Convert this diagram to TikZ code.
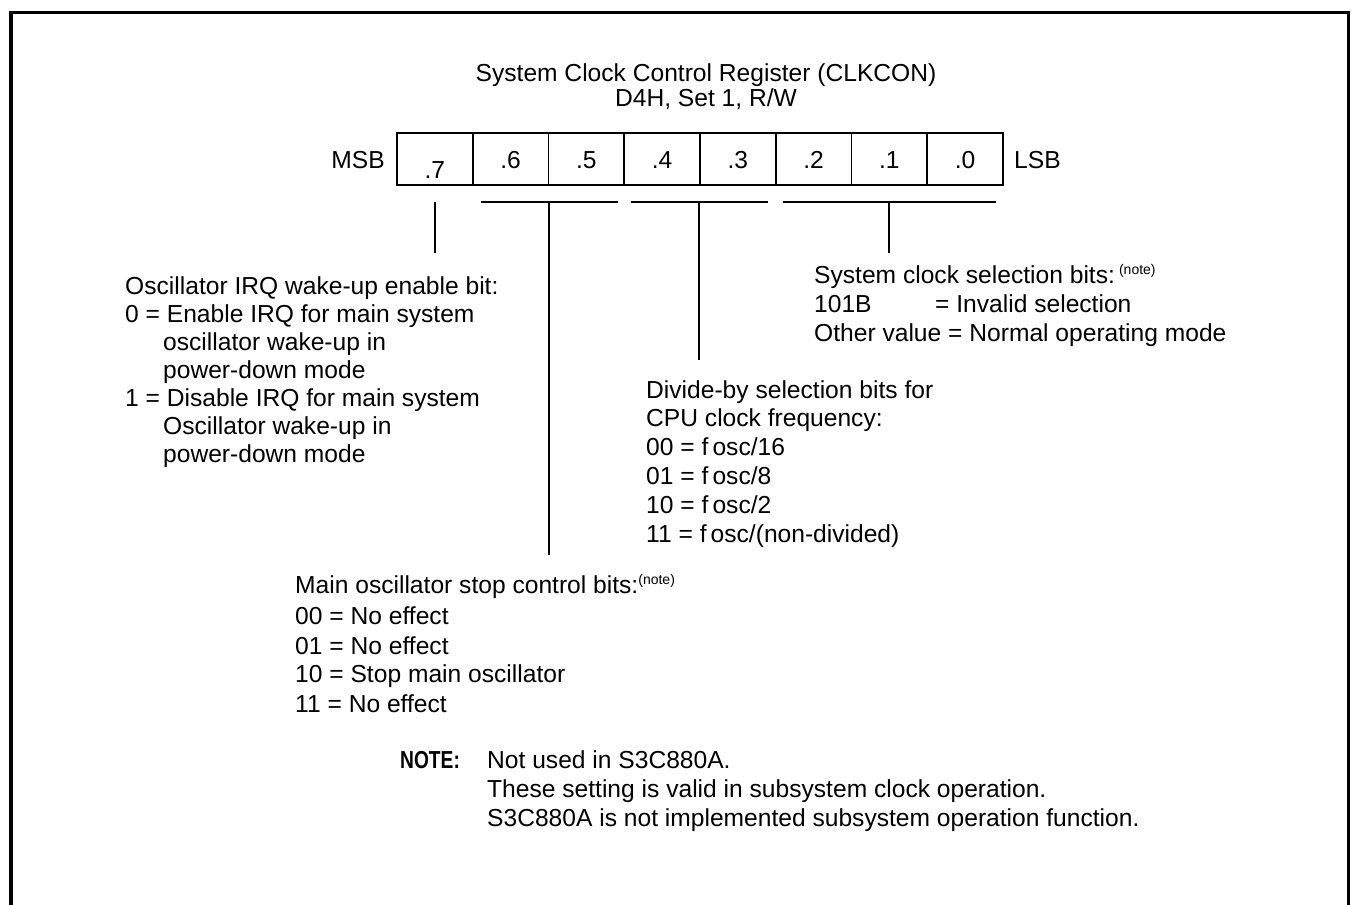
\documentclass[tikz,border=0pt]{standalone}
\usepackage{fontspec}
\setmainfont{Liberation Sans}
\begin{document}
\begin{tikzpicture}[x=1pt,y=-1pt,
  txt/.style={anchor=base west,inner sep=0pt,font=\fontsize{24.6}{28}\selectfont},
  ctr/.style={anchor=base,inner sep=0pt,font=\fontsize{24.6}{28}\selectfont},
  cell/.style={draw,line width=1.8pt,minimum width=75.75pt,minimum height=52pt,inner sep=0pt},
  ln/.style={line width=1.8pt},
  frame/.style={line width=3.2pt}]
\useasboundingbox (0,0) rectangle (1353,905);
% outer frame (open at bottom)
\draw[frame] (11,906) -- (11,12.5) -- (1348.5,12.5) -- (1348.5,906);
% title
\node[ctr] (title1) at (706,81) {System Clock Control Register (CLKCON)};
\node[ctr] (title2) at (706,106) {D4H, Set 1, R/W};
% register cells
\foreach \b [count=\k from 0] in {7,6,5,4,3,2,1,0}
  \node[cell] (c\b) at ({397+75.75*(\k+0.5)},159) {};
\node[ctr] (l7) at (c7.center |- 0,178) {.7};
\foreach \b in {6,5,4,3,2,1,0}
  \node[ctr] (l\b) at (c\b.center |- 0,168) {.\b};
\node[ctr,anchor=base east] (msb) at (385,168) {MSB};
\node[txt] (lsb) at (1014,168) {LSB};
% brackets
\coordinate (t7) at (435,202);  \coordinate (e7) at (435,253);
\coordinate (h65a) at (481,202); \coordinate (h65b) at (618,202);
\coordinate (t65) at (549,202); \coordinate (e65) at (549,555);
\coordinate (h43a) at (631,202); \coordinate (h43b) at (768,202);
\coordinate (t43) at (699,202); \coordinate (e43) at (699,360);
\coordinate (h20a) at (783,202); \coordinate (h20b) at (996,202);
\coordinate (t20) at (889,202); \coordinate (e20) at (889,253);
\draw[ln] (t7) -- (e7);
\draw[ln] (h65a) -- (h65b); \draw[ln] (t65) -- (e65);
\draw[ln] (h43a) -- (h43b); \draw[ln] (t43) -- (e43);
\draw[ln] (h20a) -- (h20b); \draw[ln] (t20) -- (e20);
% bit 7 description
\node[txt] (a1) at (125,294) {Oscillator IRQ wake-up enable bit:};
\node[txt] (a2) at (125,322) {0 = Enable IRQ for main system};
\node[txt] (a3) at (163,350) {oscillator wake-up in};
\node[txt] (a4) at (163,378) {power-down mode};
\node[txt] (a5) at (125,406) {1 = Disable IRQ for main system};
\node[txt] (a6) at (163,434) {Oscillator wake-up in};
\node[txt] (a7) at (163,462) {power-down mode};
% bits 2-0 description
\node[txt] (s1) at (814,283) {System clock selection bits:\,\raisebox{9pt}{\fontsize{14}{16}\selectfont (note)}};
\node[txt] (s2) at (814,312) {101B};
\node[txt] (s2b) at (935,312) {= Invalid selection};
\node[txt] (s3) at (814,341) {Other value = Normal operating mode};
% bits 4-3 description
\node[txt] (d1) at (646,398) {Divide-by selection bits for};
\node[txt] (d2) at (646,426) {CPU clock frequency:};
\node[txt] (d3) at (646,455) {00 = f\,osc/16};
\node[txt] (d4) at (646,484) {01 = f\,osc/8};
\node[txt] (d5) at (646,513) {10 = f\,osc/2};
\node[txt] (d6) at (646,542) {11 = f\,osc/(non-divided)};
% bits 6-5 description
\node[txt] (m1) at (295,593) {Main oscillator stop control bits:\raisebox{9pt}{\fontsize{14}{16}\selectfont (note)}};
\node[txt] (m2) at (295,624) {00 = No effect};
\node[txt] (m3) at (295,654) {01 = No effect};
\node[txt] (m4) at (295,682) {10 = Stop main oscillator};
\node[txt] (m5) at (295,712) {11 = No effect};
% note
\node[txt,font=\fontsize{24.6}{28}\selectfont\bfseries] (nt) at (400,768) {\scalebox{0.78}[1]{NOTE:}};
\node[txt] (n1) at (487,768) {Not used in S3C880A.};
\node[txt] (n2) at (487,797) {These setting is valid in subsystem clock operation.};
\node[txt] (n3) at (487,826) {S3C880A is not implemented subsystem operation function.};
\end{tikzpicture}
\end{document}
